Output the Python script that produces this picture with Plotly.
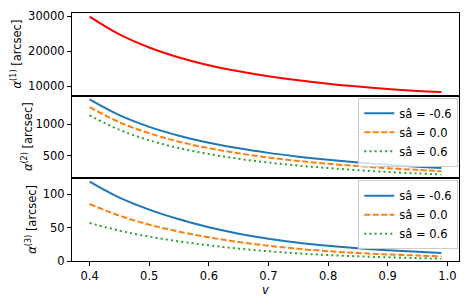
import plotly.graph_objects as go
from plotly.subplots import make_subplots

v = [0.40, 0.45, 0.50, 0.55, 0.60, 0.65, 0.70, 0.75, 0.80, 0.85, 0.90, 0.95, 0.99]

alpha1 = [29900, 24800, 21050, 18200, 16000, 14250, 12820, 11650, 10680, 9870, 9190, 8640, 8300]

alpha2_m06 = [1395, 1144, 958, 817, 706, 617, 545, 485, 435, 393, 357, 326, 304]
alpha2_00 = [1270, 1031, 856, 723, 620, 538, 472, 417, 372, 335, 302, 275, 255]
alpha2_p06 = [1141, 911, 745, 621, 526, 451, 392, 343, 304, 270, 242, 219, 202]

alpha3_m06 = [119, 95, 77, 62.5, 50.5, 41, 33.5, 27.5, 22.8, 19, 16, 13.8, 12]
alpha3_00 = [85.5, 68, 54.5, 44, 35.5, 28.5, 22.8, 18.3, 14.7, 12, 9.8, 8.2, 7]
alpha3_p06 = [57, 45.5, 36.5, 29.5, 23.5, 18.6, 14.6, 11.4, 8.9, 7, 5.5, 4.3, 3.5]

labels = ["sâ = -0.6", "sâ = 0.0", "sâ = 0.6"]
colors = ["#1f77b4", "#ff7f0e", "#2ca02c"]
dashes = ["solid", "6px,2.5px", "2px,3.2px"]

x_ticks = [0.4, 0.5, 0.6, 0.7, 0.8, 0.9, 1.0]

FONT = "DejaVu Sans"
FS = 11.5

fig = make_subplots(rows=3, cols=1, shared_xaxes=True, vertical_spacing=0)

fig.add_trace(go.Scatter(x=v, y=alpha1, mode="lines", line=dict(color="#ff0000", width=2, shape="spline"),
                         showlegend=False), row=1, col=1)

for ys, lab, c, d in zip([alpha2_m06, alpha2_00, alpha2_p06], labels, colors, dashes):
    fig.add_trace(go.Scatter(x=v, y=ys, mode="lines", name=lab,
                             line=dict(color=c, width=2, dash=d, shape="spline"),
                             legend="legend"), row=2, col=1)
for ys, lab, c, d in zip([alpha3_m06, alpha3_00, alpha3_p06], labels, colors, dashes):
    fig.add_trace(go.Scatter(x=v, y=ys, mode="lines", name=lab,
                             line=dict(color=c, width=2, dash=d, shape="spline"),
                             legend="legend2"), row=3, col=1)

axis_common = dict(showline=True, linecolor="black", linewidth=1, mirror=True,
                   showgrid=False, zeroline=False, ticks="outside", ticklen=4,
                   tickcolor="black", tickfont=dict(family=FONT, size=FS, color="black"))

for r in (1, 2, 3):
    fig.update_xaxes(range=[0.3705, 1.0195], tickvals=x_ticks, row=r, col=1, **axis_common)
fig.update_xaxes(ticks="", showticklabels=False, row=1, col=1)
fig.update_xaxes(ticks="", showticklabels=False, row=2, col=1)
fig.update_xaxes(tickformat=".1f", row=3, col=1)

fig.update_yaxes(range=[7270, 30930], tickvals=[10000, 20000, 30000], tickformat="d", row=1, col=1, **axis_common)
fig.update_yaxes(range=[141, 1453], tickvals=[500, 1000], tickformat="d", row=2, col=1, **axis_common)
fig.update_yaxes(range=[0, 124], tickvals=[0, 50, 100], tickformat="d", row=3, col=1, **axis_common)

L, R, T, B = 72, 9, 9, 44
W, H = 469, 305
pw = W - L - R
ph = H - T - B

def px_x(x):
    return (x - L) / pw

def px_y(y):
    return (H - B - y) / ph

titles = [("<i>α</i><sup>(1)</sup> [arcsec]", 16, 51),
          ("<i>α</i><sup>(2)</sup> [arcsec]", 27, 135),
          ("<i>α</i><sup>(3)</sup> [arcsec]", 32, 219)]
annotations = []
for txt, xp, yp in titles:
    annotations.append(dict(text=txt, xref="paper", yref="paper", x=px_x(xp), y=px_y(yp),
                            xanchor="center", yanchor="middle", textangle=-90, showarrow=False,
                            font=dict(family=FONT, size=FS, color="black")))
annotations.append(dict(text="<i>v</i>", xref="paper", yref="paper", x=px_x(266), y=px_y(290),
                        xanchor="center", yanchor="middle", showarrow=False,
                        font=dict(family=FONT, size=FS, color="black")))

legend_style = dict(font=dict(family=FONT, size=FS, color="black"), bgcolor="rgba(255,255,255,0.8)",
                    bordercolor="#cccccc", borderwidth=1, xanchor="left", yanchor="top",
                    itemwidth=30, tracegroupgap=0)

fig.update_layout(
    width=W, height=H,
    margin=dict(l=L, r=R, t=T, b=B),
    paper_bgcolor="white", plot_bgcolor="white",
    font=dict(family=FONT, size=FS, color="black"),
    annotations=annotations,
    legend=dict(x=px_x(359), y=px_y(95), **legend_style),
    legend2=dict(x=px_x(359), y=px_y(179), **legend_style),
)

fig.write_html("out.html", config={"displayModeBar": False},
               post_script="document.body.style.margin='0';document.body.style.padding='0';")
